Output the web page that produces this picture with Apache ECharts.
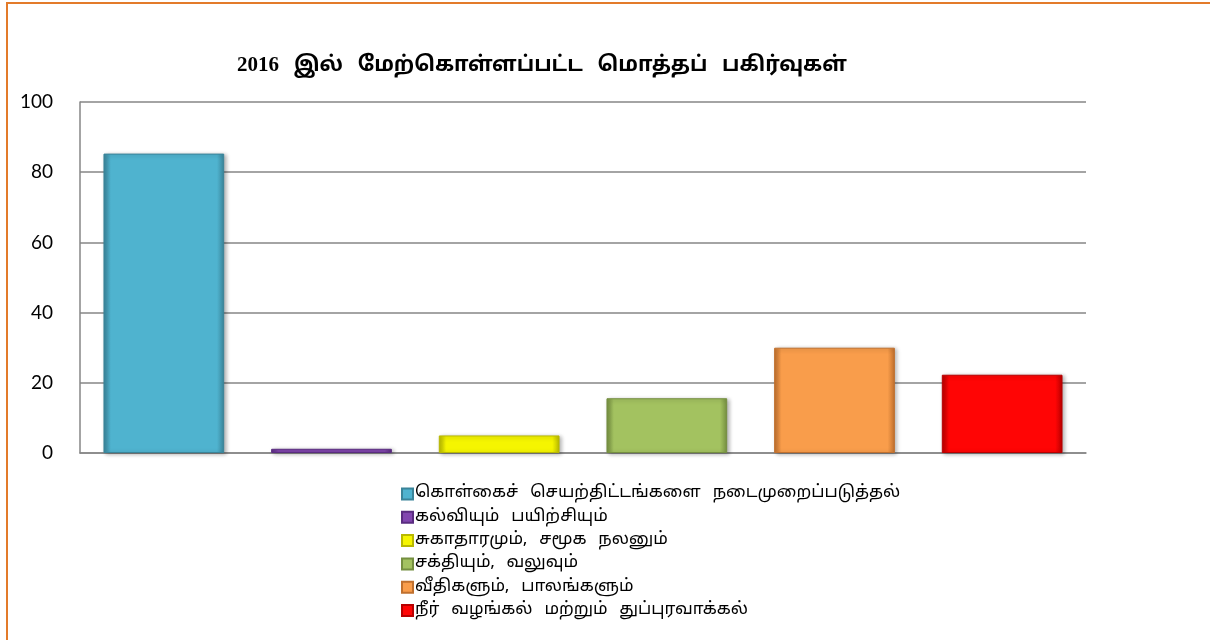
<!DOCTYPE html>
<html>
<head>
<meta charset="utf-8">
<script src="https://cdn.jsdelivr.net/npm/echarts@6/dist/echarts.min.js"></script>
<style>
  html, body { margin: 0; padding: 0; background: #fff; }
  #chart { width: 1210px; height: 640px; }
</style>
</head>
<body>
<div id="chart"></div>
<script>
const titleText = '2016 இல் மேற்கொள்ளப்பட்ட மொத்தப் பகிர்வுகள்'
const categories = [
  'கொள்கைச் செயற்திட்டங்களை நடைமுறைப்படுத்தல்',
  'கல்வியும் பயிற்சியும்',
  'சுகாதாரமும், சமூக நலனும்',
  'சக்தியும், வலுவும்',
  'வீதிகளும், பாலங்களும்',
  'நீர் வழங்கல் மற்றும் துப்புரவாக்கல்',
]
const values = [85.3, 1.2, 5, 15.6, 30, 22.3]
const colors = ['#4FB3CF', '#8246AF', '#F5F500', '#A3C260', '#F99D4B', '#FF0505']
const edgeColors = ['#3A8499', '#5A2C80', '#B8B800', '#758F40', '#C0702E', '#B80000']
const yTicks = [0, 20, 40, 60, 80, 100]

const tamilFont = '"Noto Sans Tamil", "Lohit Tamil", "Latha", "Noto Sans", sans-serif'
// wider gaps between words, the original font has very wide spaces
const wide = s => s.replace(/ /g, '\u2002\u2009')

// one series per category so every bar gets its own legend entry
const series = categories.map((name, i) => ({
  type: 'bar',
  name,
  stack: 'all',
  barCategoryGap: '28%',
  data: values.map((v, j) => (j === i ? v : '-')),
  itemStyle: {
    color: new echarts.graphic.LinearGradient(0, 0, 1, 0, [
      { offset: 0, color: edgeColors[i] },
      { offset: 0.06, color: colors[i] },
      { offset: 0.94, color: colors[i] },
      { offset: 1, color: edgeColors[i] },
    ]),
    borderColor: edgeColors[i],
    borderWidth: 1,
    shadowColor: 'rgba(0,0,0,0.3)',
    shadowBlur: 4,
    shadowOffsetX: 2,
    shadowOffsetY: 1,
  },
  emphasis: { disabled: true },
}))

const chart = echarts.init(document.getElementById('chart'))
chart.setOption({
  animation: false,
  title: {
    text: wide(titleText),
    left: 537,
    top: 50,
    textAlign: 'center',
    textStyle: {
      fontFamily: '"Liberation Serif", ' + tamilFont,
      fontSize: 21,
      fontWeight: 'bold',
      color: '#000',
    },
  },
  grid: { left: 80, right: 124, top: 102, bottom: 187 },
  legend: {
    orient: 'vertical',
    left: 396,
    top: 479,
    icon: 'rect',
    itemWidth: 11,
    itemHeight: 11,
    itemGap: 3.3,
    data: categories,
    formatter: wide,
    textStyle: { fontFamily: tamilFont, fontSize: 17, color: '#000', lineHeight: 20, padding: [0, 0, 0, -3] },
  },
  xAxis: {
    type: 'category',
    data: categories,
    axisLine: { lineStyle: { color: '#868686', width: 1.5 } },
    axisTick: { show: false },
    axisLabel: { show: false },
  },
  yAxis: {
    type: 'value',
    min: yTicks[0],
    max: yTicks[yTicks.length - 1],
    interval: 20,
    axisLine: { show: true, lineStyle: { color: '#868686', width: 1.5 } },
    axisTick: { show: false },
    splitLine: { lineStyle: { color: '#868686', width: 1.5 } },
    axisLabel: { fontFamily: 'Lato, "Open Sans", sans-serif', fontSize: 19, color: '#000', margin: 27 },
  },
  graphic: [
    {
      type: 'rect',
      silent: true,
      shape: { x: 7, y: 3, width: 1210, height: 650 },
      style: { fill: 'none', stroke: '#E37B2A', lineWidth: 2 },
    },
  ],
  series,
})
</script>
</body>
</html>
